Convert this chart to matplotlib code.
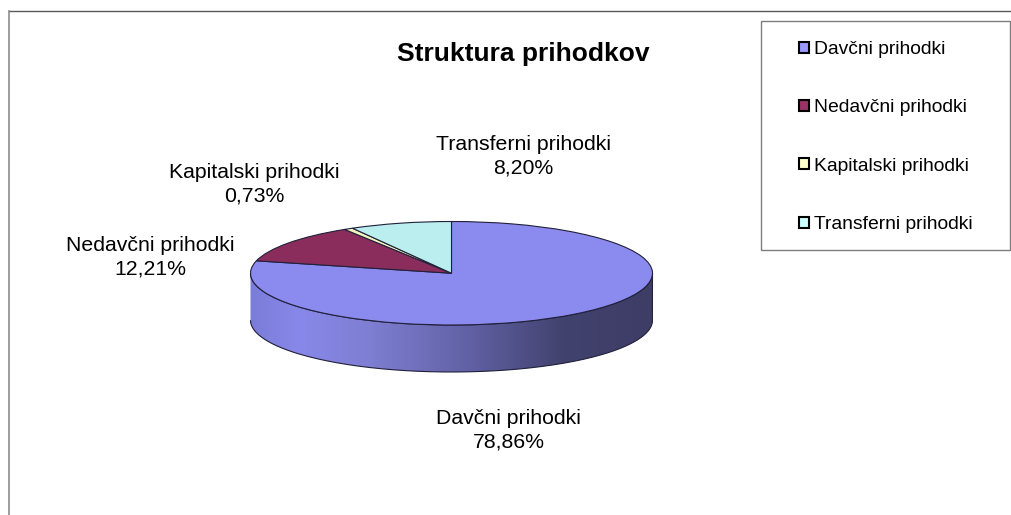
import numpy as np
import matplotlib
matplotlib.use("Agg")
import matplotlib.pyplot as plt
from matplotlib.colors import LinearSegmentedColormap
from matplotlib.lines import Line2D
from matplotlib.patches import Patch, PathPatch, Rectangle
from matplotlib.path import Path

plt.rcParams["font.family"] = ["Liberation Sans", "DejaVu Sans"]

# -----------------------------
# DATA
# -----------------------------
CATEGORIES = ["Davčni prihodki", "Nedavčni prihodki", "Kapitalski prihodki", "Transferni prihodki"]
VALUES = [78.86, 12.21, 0.73, 8.20]
TOP_COLORS = ["#8b8bef", "#8a2d5c", "#f3f3bf", "#bbeeee"]
LEGEND_COLORS = ["#9999ff", "#993366", "#ffffcc", "#ccffff"]
TITLE = "Struktura prihodkov"

W, H = 1012, 515
FONT = 13.85
LABEL_FONT = 15.3

fig = plt.figure(figsize=(W / 100, H / 100), dpi=100, facecolor="white")

# -----------------------------
# PAGE AXES (pixel coordinates)
# -----------------------------
page = fig.add_axes([0, 0, 1, 1])
page.set_xlim(0, W)
page.set_ylim(H, 0)
page.axis("off")

page.add_line(Line2D([9.5, W], [10.5, 10.5], color="#5a5a5a", lw=1.0))
page.add_line(Line2D([9.5, 9.5], [10.5, H], color="#8c8c8c", lw=1.2))
page.add_patch(Rectangle((761.5, 20.5), 248.5, 229.5, fc="white", ec="#7d7d7d", lw=1.0))

page.text(523.5, 54, TITLE, ha="center", va="center", fontsize=19.0, fontweight="bold", color="black")

# label centres
label_xy = [(508.5, 430.5), (150, 257), (254, 184.5), (523.5, 156.5)]
for name, val, (x, y) in zip(CATEGORIES, VALUES, label_xy):
    txt = f"{val:.2f}".replace(".", ",") + "%"
    page.text(x, y, f"{name}\n{txt}", ha="center", va="center", fontsize=LABEL_FONT,
              linespacing=1.31, color="black")

handles = [Patch(fc=c, ec="black", lw=1.5) for c in LEGEND_COLORS]
page.legend(handles, CATEGORIES, loc="center", bbox_to_anchor=(886, 137),
            bbox_transform=page.transData, frameon=False, fontsize=FONT,
            handlelength=0.52, handleheight=0.52, handletextpad=0.28,
            labelspacing=2.15, borderpad=0, borderaxespad=0)

# -----------------------------
# PIE AXES (flattened so the circle becomes the top ellipse)
# -----------------------------
left, right, top, bottom = 250.5, 652.5, 221.5, 325.0
depth = 47.0 / ((bottom - top) / 2)

ax = fig.add_axes([left / W, 1 - (bottom + 47.0) / H, (right - left) / W, (bottom + 47.0 - top) / H])
ax.patch.set_visible(False)

t = np.linspace(np.pi, 2 * np.pi, 200)
xs = np.cos(t)
ys = np.sin(t)
wall_xy = np.r_[np.c_[xs, ys], np.c_[xs[::-1], ys[::-1] - depth]]

shade = LinearSegmentedColormap.from_list(
    "wall",
    [(0.0, "#7b7bd8"), (0.12, "#8888ea"), (0.3, "#7e7ed2"), (0.55, "#6060a4"),
     (0.78, "#42426f"), (1.0, "#3d3d66")],
)
img = ax.imshow(np.linspace(0, 1, 256)[None, :], cmap=shade, aspect="auto",
                extent=(-1, 1, -1 - depth, 0), zorder=1)
wall = PathPatch(Path(wall_xy), fc="none", ec="#20203a", lw=0.8, zorder=2, clip_on=False)
ax.add_patch(wall)
img.set_clip_path(wall)

wedges, _ = ax.pie(VALUES, colors=TOP_COLORS, startangle=90, counterclock=False,
                   radius=1, wedgeprops={"edgecolor": "#20203a", "linewidth": 0.8, "zorder": 3})
for w in wedges:
    w.set_clip_on(False)

ax.set_aspect("auto")
ax.set_xlim(-1, 1)
ax.set_ylim(-1 - depth, 1)
ax.axis("off")

fig.savefig("out.png", dpi=100)
